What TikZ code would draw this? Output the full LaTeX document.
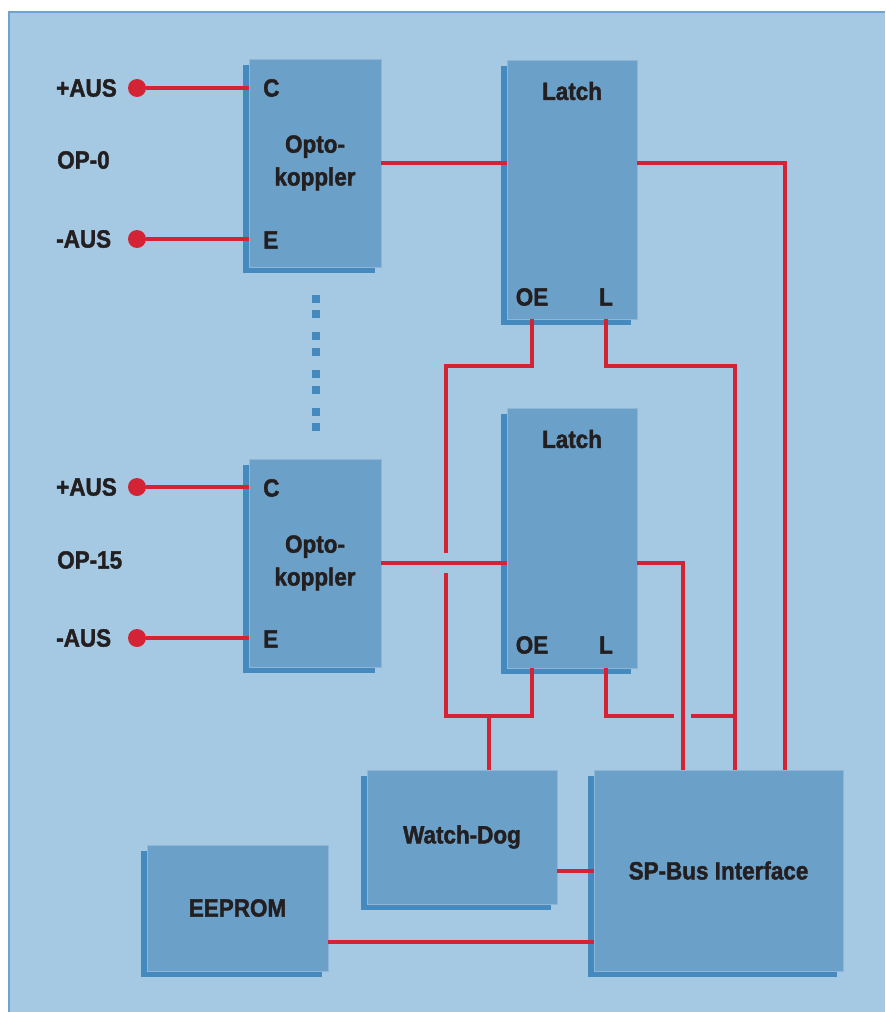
\documentclass[tikz,border=0pt]{standalone}
\usepackage{fontspec}
\setmainfont{Liberation Sans}[FakeStretch=0.9,BoldFeatures={FakeBold=1.6}]
\usetikzlibrary{shadows}

\definecolor{panelblue}{HTML}{A5C8E3}
\definecolor{frameblue}{HTML}{70A3D0}
\definecolor{boxblue}{HTML}{6BA0C8}
\definecolor{boxedge}{HTML}{8DB6D9}
\definecolor{shadeblue}{HTML}{448ABF}
\definecolor{wirered}{HTML}{D42335}
\definecolor{inkblack}{HTML}{231F20}

\tikzset{
  txt/.style={text=inkblack,font=\fontsize{21.3}{28}\selectfont\bfseries,inner sep=0pt},
  block/.style={txt,fill=boxblue,draw=boxedge,line width=0.6pt,align=center,
    drop shadow={shadow xshift=-0.18cm,shadow yshift=-0.18cm,fill=shadeblue,opacity=1}},
  wire/.style={draw=wirered,line width=2.8pt},
  term/.style={circle,fill=wirered,inner sep=0pt,minimum size=0.54cm},
  dotsq/.style={fill=shadeblue,inner sep=0pt,minimum size=0.24cm},
}

\begin{document}
\begin{tikzpicture}[x=0.03cm,y=-0.03cm]
  % panel
  \useasboundingbox (0,0) rectangle (885,1012);
  \fill[panelblue] (9,12) rectangle (885,1012);
  \draw[frameblue,line width=1.7pt] (9,1012) -- (9,12) -- (885,12);

  % blocks
  \node[block,minimum width=3.96cm,minimum height=6.24cm] (opto1) at (315,163) {Opto-\\koppler};
  \node[block,minimum width=3.96cm,minimum height=6.24cm] (opto2) at (315,563) {Opto-\\koppler};
  \node[block,minimum width=3.9cm,minimum height=7.77cm] (latch1) at (572,189.5) {};
  \node[block,minimum width=3.9cm,minimum height=7.8cm] (latch2) at (572,538) {};
  \node[block,minimum width=5.7cm,minimum height=4.02cm] (wd) at (462,837) {Watch-Dog};
  \node[block,minimum width=5.43cm,minimum height=3.78cm] (eeprom) at (237.5,908) {EEPROM};
  \node[block,minimum width=7.47cm,minimum height=6.03cm] (spbus) at (718.5,870.5) {SP-Bus Interface};

  % texts
  \node[txt] (lt1) at (572,91) {Latch};
  \node[txt] (lt2) at (572,439) {Latch};
  \node[txt] (oe1) at (532,297) {OE};
  \node[txt] (l1) at (606,297) {L};
  \node[txt] (oe2) at (532,645) {OE};
  \node[txt] (l2) at (606,645) {L};
  \node[txt,anchor=west] (c1) at (263,88) {C};
  \node[txt,anchor=west] (e1) at (263,240) {E};
  \node[txt,anchor=west] (c2) at (263,488) {C};
  \node[txt,anchor=west] (e2) at (263,639) {E};
  \node[txt,anchor=west] (pa1) at (56,88) {+AUS};
  \node[txt,anchor=west] (op0) at (57,160) {OP-0};
  \node[txt,anchor=west] (ma1) at (56,239) {-AUS};
  \node[txt,anchor=west] (pa2) at (56,487) {+AUS};
  \node[txt,anchor=west] (op15) at (57,560) {OP-15};
  \node[txt,anchor=west] (ma2) at (56,638) {-AUS};

  % terminals
  \node[term] (tp1) at (137,88) {};
  \node[term] (tm1) at (137,239) {};
  \node[term] (tp2) at (137,487) {};
  \node[term] (tm2) at (137,638) {};

  % dots between the channels
  \foreach \y in {299,314,336,352,374,390,412,427}
    \node[dotsq] at (316,\y) {};

  \coordinate (sp1) at (683,770);
  \coordinate (sp2) at (735,770);
  \coordinate (sp3) at (785,770);
  \coordinate (jw) at (489,716);

  % wires
  \draw[wire] (tp1) -- (tp1 -| opto1.west);
  \draw[wire] (tm1) -- (tm1 -| opto1.west);
  \draw[wire] (tp2) -- (tp2 -| opto2.west);
  \draw[wire] (tm2) -- (tm2 -| opto2.west);
  \draw[wire] (opto1.east) -- (opto1.east -| latch1.west);
  \draw[wire] (opto2.east) -- (opto2.east -| latch2.west);
  \draw[wire] (latch1.east |- opto1.east) -| (sp3);
  \draw[wire] (latch2.east |- opto2.east) -| (sp1);
  \draw[wire] (latch1.south -| oe1) |- (446,366) -- (446,553);
  \draw[wire] (446,573) |- (jw) -| (latch2.south -| oe2);
  \draw[wire] (jw) -- (jw |- wd.north);
  \draw[wire] (latch1.south -| l1) |- (735,366) -- (sp2);
  \draw[wire] (latch2.south -| l2) |- (674,716);
  \draw[wire] (691,716) -- (735,716);
  \draw[wire] ([yshift=-0.015cm]spbus.west) -- ([yshift=-0.015cm]spbus.west -| wd.east);
  \draw[wire] ([yshift=-1.02cm]eeprom.east) -- ([yshift=-1.02cm]eeprom.east -| spbus.west);
\end{tikzpicture}
\end{document}
